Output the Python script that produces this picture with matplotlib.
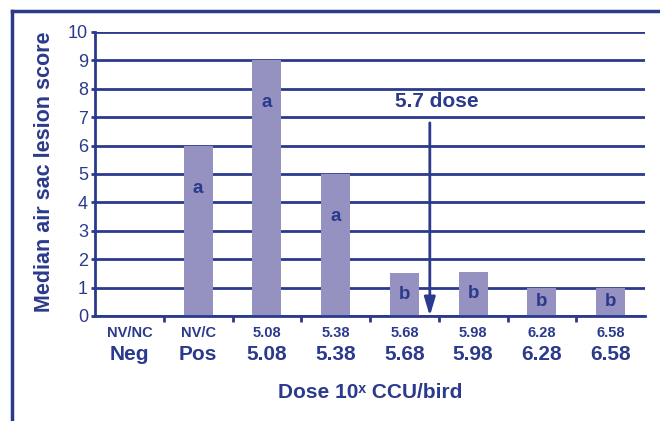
import matplotlib
matplotlib.use("Agg")
import matplotlib.pyplot as plt
from matplotlib.lines import Line2D

plt.rcParams['font.family'] = ['Liberation Sans', 'DejaVu Sans']

# data
groups = ["NV/NC", "NV/C", "5.08", "5.38", "5.68", "5.98", "6.28", "6.58"]
doses = ["Neg", "Pos", "5.08", "5.38", "5.68", "5.98", "6.28", "6.58"]
scores = [0, 6, 9, 5, 1.5, 1.55, 1.0, 1.0]
letters = ["", "a", "a", "a", "b", "b", "b", "b"]
marker_pos = 4.37   # where the 5.7 dose arrow sits on the category axis

navy = "#2B3A8C"
lav = "#9591C1"

fig = plt.figure(figsize=(6.6, 4.21), dpi=100)
ax = fig.add_axes([95/660, 1-316/421, 550/660, 284/421])

x = range(len(groups))
ax.bar(x, scores, width=0.42, color=lav, zorder=2)

for i, (h, l) in enumerate(zip(scores, letters)):
    if not l:
        continue
    ly = h - 1.5 if h > 3 else h * 0.5
    ax.text(i, ly, l, ha="center", va="center", color=navy,
            fontsize=13.5, fontweight="bold", zorder=3)

ax.set_xlim(-0.5, 7.5)
ax.set_ylim(0, 10)
ax.set_yticks(range(0, 11))
ax.yaxis.grid(True, color=navy, linewidth=2)
ax.set_axisbelow(True)
ax.tick_params(axis="y", colors=navy, labelsize=13, length=3, width=2, pad=2)
ax.set_xticks([i + 0.5 for i in range(len(groups) - 1)])
ax.set_xticklabels([])
ax.tick_params(axis="x", colors=navy, length=4, width=2, direction="out")
for s in ["top", "right"]:
    ax.spines[s].set_visible(False)
for s in ["left", "bottom"]:
    ax.spines[s].set_color(navy)
    ax.spines[s].set_linewidth(2)

for i, (g, d) in enumerate(zip(groups, doses)):
    ax.annotate(g, (i, 0), xycoords=("data", "axes fraction"), xytext=(0, -12),
                textcoords="offset points", ha="center", va="center",
                color=navy, fontsize=10.5, fontweight="bold")
    ax.annotate(d, (i, 0), xycoords=("data", "axes fraction"), xytext=(0, -28),
                textcoords="offset points", ha="center", va="center",
                color=navy, fontsize=15, fontweight="bold")

# 5.7 dose arrow
ax.annotate("", xy=(marker_pos, 0), xytext=(marker_pos, 6.8),
            arrowprops=dict(arrowstyle="-|>,head_length=1.1,head_width=0.33",
                            color=navy, lw=2, shrinkA=0, shrinkB=0), zorder=4)
ax.text(marker_pos + 0.1, 7.55, "5.7 dose", ha="center", va="center",
        color=navy, fontsize=15, fontweight="bold")

fig.text(45/660, 1-172/421, "Median air sac lesion score", rotation=90,
         ha="center", va="center", color=navy, fontsize=15.5, fontweight="bold")
fig.text(370/660, 1-392/421, "Dose 10ˣ CCU/bird", ha="center", va="center",
         color=navy, fontsize=15, fontweight="bold")

# outer frame (left and top only)
fig.add_artist(Line2D([12/660, 12/660], [0, 1-11/421], color=navy, lw=2.5))
fig.add_artist(Line2D([12/660, 1], [1-11/421, 1-11/421], color=navy, lw=2.5))

fig.savefig("out.png", dpi=100)
